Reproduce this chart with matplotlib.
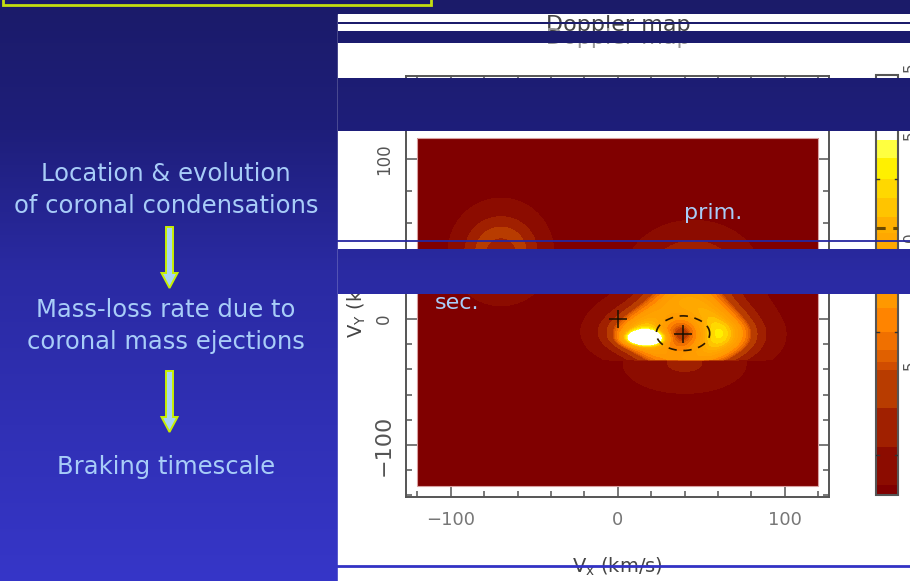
import numpy as np
import matplotlib
matplotlib.use("Agg")
import matplotlib.pyplot as plt
from matplotlib.colors import ListedColormap, BoundaryNorm, to_rgb
from matplotlib.patches import Rectangle, Polygon
from matplotlib.ticker import FixedLocator, MultipleLocator

plt.rcParams["mathtext.default"] = "regular"

W, H = 910, 581

# ---------------- data ----------------
flow_lines = ["Location & evolution", "of coronal condensations",
              "Mass-loss rate due to", "coronal mass ejections",
              "Braking timescale"]
x_major = [-100, 0, 100]
y_major = [100, 0, -100]
y_major_labels = ["100", "0", "\u2212100"]
x_major_labels = ["\u2212100", "0", "100"]

# emission components of the Doppler map (km/s)
comp_vx = [-70, -70, 39, 16, 60, 8, 45, 72, 40]
comp_vy = [42, 42, -11.5, -15, -12, -10, 28, -12, -35]
comp_amp = [0.15, 0.09, 0.42, 0.9, 0.28, 0.35, 0.3, 0.12, 0.13]
comp_sx = [7, 18, 10, 7, 18, 13, 18, 10, 20]
comp_sy = [7, 20, 10, 3.5, 14, 11, 15, 12, 13]
comp_ring = [13, 0, 20, 0, 0, 0, 0, 0, 0]
comp_zone = ["all", "all", "up", "up", "up", "up", "up", "up", "low"]
vy_cut = -32.5
map_vx_range = [-120, 120]
map_vy_range = [-132.5, 113]

# star positions and Roche-like dashed ellipse
star_vx = [0, 39]
star_vy = [0, -11.5]
ellipse_c = [39, -11.5]
ellipse_ax = [16, 13.5]

# contour levels and colours (bottom -> top)
levels = [0, 0.0238, 0.1143, 0.2071, 0.2976, 0.3167, 0.3452, 0.3881, 0.4452,
          0.4810, 0.5357, 0.5881, 0.6238, 0.6619, 0.7071, 0.7524, 0.8024,
          0.8452, 1.0]
level_colors = ["#800000", "#8c0c00", "#a02000", "#b83c00", "#d04c00",
                "#e06000", "#f07000", "#ff8400", "#ff9800", "#ff9c00",
                "#ffa200", "#ffa800", "#ffb000", "#ffc400", "#ffd800",
                "#fff000", "#ffff40", "#ffffff"]
cbar_marks = [0.752, 0.388, 0.095]
cbar_dash = 0.636

# background gradient stops (pixel row, colour)
bg_rows = [0, 130, 270, 581]
bg_cols = ["#1b1b69", "#1e1e7a", "#2a2aa2", "#3636c8"]

# ---------------- figure ----------------
fig = plt.figure(figsize=(W / 100, H / 100), dpi=100)

rows = np.arange(H) + 0.5
cols = np.array([to_rgb(c) for c in bg_cols])
grad = np.stack([np.interp(rows, bg_rows, cols[:, k]) for k in range(3)], axis=-1)
grad_img = grad[:, None, :]

ax_bg = fig.add_axes([0, 0, 1, 1], zorder=0)
ax_bg.axis("off")
ax_bg.imshow(grad_img, extent=(0, W, H, 0), aspect="auto", interpolation="bilinear")
ax_bg.add_patch(Rectangle((338, 14), W - 338, H - 14, color="white", zorder=2))
ax_bg.set_xlim(0, W)
ax_bg.set_ylim(H, 0)

# ---------------- Doppler map ----------------
def fwd(y):
    y = np.asarray(y, dtype=float)
    return np.where(y >= 0, y * 1.6, y * 1.26)

def inv(p):
    p = np.asarray(p, dtype=float)
    return np.where(p >= 0, p / 1.6, p / 1.26)

L, R, B, T = 405.7, 829, 497, 76
ax = fig.add_axes([L / W, 1 - B / H, (R - L) / W, (B - T) / H], zorder=1)
ax.set_facecolor("white")
ax.set_yscale("function", functions=(fwd, inv))

gx = np.linspace(map_vx_range[0], map_vx_range[1], 481)
gy = np.linspace(map_vy_range[0], map_vy_range[1], 491)
X, Y = np.meshgrid(gx, gy)
Z = np.zeros_like(X)
for vx, vy, a, sx, sy, rr, zone in zip(comp_vx, comp_vy, comp_amp, comp_sx,
                                       comp_sy, comp_ring, comp_zone):
    if rr > 0:
        r = np.hypot(X - vx, Y - vy)
        g = a * np.exp(-((r - rr) ** 2) / (2 * sx ** 2))
    else:
        g = a * np.exp(-((X - vx) ** 2 / (2 * sx ** 2) + (Y - vy) ** 2 / (2 * sy ** 2)))
    if zone == "up":
        g = np.where(Y >= vy_cut, g, 0)
    elif zone == "low":
        g = np.where(Y < vy_cut, g, 0)
    Z += g
Z = np.clip(Z, 0, 0.999)

cmap = ListedColormap(level_colors)
norm = BoundaryNorm(levels, cmap.N)
cf = ax.contourf(X, Y, Z, levels=levels, cmap=cmap, norm=norm, zorder=1)
ax.add_patch(Rectangle((map_vx_range[0], map_vy_range[0]),
                       map_vx_range[1] - map_vx_range[0],
                       map_vy_range[1] - map_vy_range[0],
                       fill=False, ec="#d8a0a0", lw=0.8, zorder=2))

t = np.linspace(0, 2 * np.pi, 200)
ax.plot(ellipse_c[0] + ellipse_ax[0] * np.cos(t),
        ellipse_c[1] + ellipse_ax[1] * np.sin(t),
        color="#2a1800", lw=1.2, ls=(0, (5, 4)), zorder=3)
ax.plot(star_vx, star_vy, ls="none", marker="+", ms=13, mew=1.1,
        color="#1a1000", zorder=4)

ax.set_xlim(-127, 126.4)
ax.set_ylim(-141.3, 152)
ax.xaxis.set_major_locator(FixedLocator(x_major))
ax.xaxis.set_minor_locator(MultipleLocator(20))
ax.yaxis.set_major_locator(FixedLocator(y_major))
ax.yaxis.set_minor_locator(MultipleLocator(20))
ax.set_xticklabels(x_major_labels, fontsize=13, color="#777777")
ax.set_yticklabels(y_major_labels, fontsize=12, color="#555555")
for lbl in ax.get_yticklabels():
    lbl.set_rotation(90)
    lbl.set_va("center")
    if lbl.get_text().startswith("\u2212"):
        lbl.set_fontsize(16)
ax.tick_params(which="both", direction="in", top=True, right=True,
               color="#555555", width=1.1)
ax.tick_params(which="major", length=8)
ax.tick_params(which="minor", length=4)
ax.tick_params(axis="x", pad=10)
ax.tick_params(axis="y", pad=9)
for s in ax.spines.values():
    s.set_color("#555555")
    s.set_linewidth(1.4)

ax.set_xlabel("V$_x$ (km/s)", fontsize=14, color="#444444")
ax.xaxis.set_label_coords(0.5, -(567 - B) / (B - T))
ax.xaxis.label.set_va("center")
ax.set_ylabel("V$_Y$ (km/s)", fontsize=14, color="#444444")
ax.yaxis.set_label_coords(-(L - 357) / (R - L), (B - 292) / (B - T))
ax.yaxis.label.set_va("center")

# colorbar
cax = fig.add_axes([876 / W, 1 - 495 / H, 22 / W, 420 / H], zorder=1)
cb = fig.colorbar(cf, cax=cax, spacing="proportional")
cb.set_ticks([])
cax.minorticks_off()
cax.tick_params(which="both", length=0, labelsize=0)
cb.outline.set_edgecolor("#555555")
cb.outline.set_linewidth(1.5)
cax.axhline(cbar_dash, color="#6a4800", lw=2.2, ls=(0, (3, 2.5)), zorder=5)
for m in cbar_marks:
    cax.plot([0, 0.12], [m, m], transform=cax.get_yaxis_transform(),
             color="#333333", lw=1, zorder=5)
    cax.plot([0.88, 1], [m, m], transform=cax.get_yaxis_transform(),
             color="#333333", lw=1, zorder=5)

# labels inside the map
ax.text(435, 303, "sec.", transform=ax_bg.transData, fontsize=16,
        color="#a8cdf8", ha="left", va="center", zorder=6)
ax.text(684, 213, "prim.", transform=ax_bg.transData, fontsize=16,
        color="#a8cdf8", ha="left", va="center", zorder=6)

# title (ghosted copy) and colorbar labels, under the overlays
ax_bg.text(618, 31, "Doppler map", fontsize=16, color="#444444",
           ha="center", va="baseline", zorder=3)
ax_bg.text(618, 43.5, "Doppler map", fontsize=16, color="#999999",
           ha="center", va="baseline", zorder=3)
for yy, txt in [(67, "5"), (135, "5"), (237, "0"), (365, "5")]:
    ax_bg.text(903, yy, txt, fontsize=11, color="#555555", rotation=90,
               ha="left", va="center", zorder=3)

# ---------------- overlays ----------------
ax_ov = fig.add_axes([0, 0, 1, 1], zorder=10)
ax_ov.axis("off")
ax_ov.patch.set_alpha(0)

for y0, y1 in [(0, 14), (22, 24), (31, 43), (78, 131), (249, 294)]:
    ax_ov.imshow(grad_img[y0:y1], extent=(338, W, y1, y0), aspect="auto",
                 interpolation="bilinear", zorder=1)
ax_ov.plot([338, W], [240.5, 240.5], color="#2626a0", lw=1.3, zorder=2)
ax_ov.plot([338, W], [565.5, 565.5], color="#3232c4", lw=2, zorder=2)
ax_ov.set_xlim(0, W)
ax_ov.set_ylim(H, 0)

ax_ov.add_patch(Rectangle((2.5, -20), 428, 24.5, fill=False,
                          ec="#c4de10", lw=2, zorder=3))

text_y = [174, 206, 310, 342, 467]
for txt, yy in zip(flow_lines, text_y):
    ax_ov.text(166, yy, txt, fontsize=17.5, color="#a8cdf8",
               ha="center", va="center", zorder=3)

for top in [227, 371]:
    pts = [(166, top), (173, top), (173, top + 46), (177.5, top + 46),
           (169.5, top + 61), (161.5, top + 46), (166, top + 46)]
    ax_ov.add_patch(Polygon(pts, closed=True, fc="#a8d4f4", ec="#c8f000",
                            lw=1.4, zorder=3))

fig.savefig("out.png", dpi=100)
